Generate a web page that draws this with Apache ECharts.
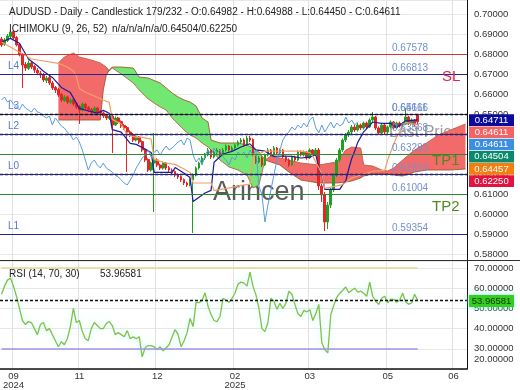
<!DOCTYPE html>
<html><head><meta charset="utf-8">
<script src="https://cdn.jsdelivr.net/npm/echarts@6/dist/echarts.min.js"></script>
<style>html,body{margin:0;padding:0;background:#fff}#c{width:520px;height:390px}</style>
</head><body><div id="c"></div>
<script>
// ---------- DATA ----------
// candles: [open, close, low, high]
const candles = [
[.6875,.6845,.6835,.6885],[.6848,.6870,.6840,.6880],[.6868,.6890,.6860,.6900],[.6888,.6910,.6880,.6920],[.6912,.6880,.6872,.6918],
[.6882,.6845,.6838,.6890],[.6848,.6795,.6788,.6852],[.6798,.6745,.6630,.6805],[.6748,.6730,.6715,.6760],[.6728,.6755,.6720,.6768],
[.6755,.6735,.6725,.6765],[.6738,.6720,.6705,.6745],[.6718,.6705,.6695,.6730],[.6702,.6695,.6680,.6715],[.6698,.6670,.6660,.6705],
[.6668,.6680,.6655,.6690],[.6682,.6655,.6645,.6690],[.6655,.6630,.6620,.6665],[.6632,.6620,.6605,.6640],[.6622,.6595,.6585,.6630],
[.6598,.6570,.6560,.6605],[.6568,.6585,.6560,.6595],[.6585,.6560,.6550,.6592],[.6558,.6570,.6548,.6580],[.6572,.6550,.6540,.6578],
[.6552,.6535,.6525,.6560],[.6538,.6520,.6450,.6545],[.6520,.6550,.6512,.6558],[.6548,.6530,.6520,.6555],[.6532,.6520,.6510,.6540],
[.6522,.6510,.6500,.6530],[.6508,.6530,.6500,.6538],[.6530,.6510,.6500,.6535],[.6512,.6505,.6495,.6520],[.6505,.6490,.6480,.6512],
[.6492,.6480,.6470,.6498],[.6478,.6490,.6470,.6498],[.6490,.6445,.6305,.6495],[.6445,.6480,.6440,.6488],[.6480,.6460,.6450,.6485],
[.6462,.6440,.6430,.6468],[.6442,.6430,.6420,.6450],[.6432,.6410,.6210,.6440],[.6410,.6395,.6385,.6418],[.6398,.6370,.6360,.6405],
[.6370,.6385,.6362,.6392],[.6385,.6360,.6350,.6390],[.6362,.6320,.6310,.6368],[.6322,.6270,.6260,.6328],[.6272,.6220,.6210,.6278],
[.6220,.6255,.6212,.6262],[.6255,.6270,.6010,.6405],[.6270,.6245,.6235,.6278],[.6245,.6230,.6220,.6252],[.6230,.6255,.6222,.6262],
[.6255,.6230,.6220,.6260],[.6232,.6220,.6210,.6240],[.6220,.6210,.6200,.6228],[.6212,.6195,.6185,.6218],[.6195,.6185,.6175,.6202],
[.6188,.6170,.6160,.6192],[.6172,.6155,.6145,.6178],[.6155,.6145,.6135,.6162],[.6145,.6170,.6138,.6178],[.6170,.6195,.5905,.6202],
[.6195,.6230,.6188,.6238],[.6230,.6255,.6222,.6262],[.6255,.6280,.6248,.6290],[.6280,.6295,.6270,.6305],[.6295,.6320,.6288,.6330],
[.6318,.6285,.6275,.6325],[.6285,.6310,.6278,.6318],[.6310,.6320,.6300,.6330],[.6320,.6295,.6288,.6325],[.6295,.6320,.6290,.6330],
[.6320,.6340,.6312,.6348],[.6340,.6320,.6312,.6345],[.6320,.6330,.6310,.6340],[.6330,.6345,.6322,.6352],[.6345,.6360,.6338,.6368],
[.6360,.6370,.6350,.6380],[.6370,.6345,.6335,.6378],[.6345,.6380,.6340,.6390],[.6380,.6370,.6360,.6392],[.6372,.6295,.6285,.6378],
[.6295,.6260,.6250,.6300],[.6260,.6280,.6252,.6290],[.6280,.6245,.6235,.6288],[.6245,.6295,.6240,.6302],[.6295,.6320,.6288,.6330],
[.6320,.6295,.6288,.6325],[.6295,.6330,.6290,.6340],[.6330,.6305,.6298,.6335],[.6305,.6320,.6298,.6328],[.6320,.6285,.6278,.6325],
[.6285,.6270,.6260,.6292],[.6270,.6245,.6235,.6278],[.6245,.6285,.6240,.6292],[.6285,.6270,.6262,.6292],[.6270,.6310,.6265,.6318],
[.6310,.6295,.6288,.6318],[.6295,.6310,.6288,.6318],[.6310,.6280,.6272,.6315],[.6280,.6320,.6275,.6328],[.6320,.6295,.6288,.6325],
[.6295,.6320,.6290,.6330],[.6320,.6140,.6120,.6330],[.6140,.6095,.6060,.6150],[.6095,.5960,.5915,.6110],[.5960,.6045,.5925,.6060],
[.6045,.6120,.6030,.6130],[.6120,.6195,.6110,.6205],[.6195,.6270,.6185,.6280],[.6270,.6320,.6260,.6330],[.6320,.6370,.6310,.6378],
[.6370,.6395,.6360,.6405],[.6395,.6410,.6385,.6420],[.6410,.6435,.6400,.6445],[.6435,.6420,.6410,.6445],[.6420,.6445,.6412,.6455],
[.6445,.6430,.6420,.6452],[.6430,.6455,.6422,.6462],[.6455,.6435,.6425,.6462],[.6435,.6470,.6430,.6478],[.6470,.6485,.6462,.6510],
[.6485,.6430,.6420,.6490],[.6430,.6405,.6395,.6438],[.6405,.6445,.6400,.6452],[.6445,.6410,.6400,.6450],[.6410,.6435,.6402,.6442],
[.6435,.6460,.6428,.6468],[.6460,.6430,.6422,.6465],[.6430,.6455,.6425,.6462],[.6455,.6440,.6432,.6462],[.6440,.6450,.6430,.6458],
[.6450,.6485,.6445,.6530],[.6485,.6455,.6445,.6492],[.6455,.6470,.6448,.6478],[.6470,.6445,.6438,.6475],[.6498,.6461,.6445,.6499]
];
// Tenkan (navy) as [barIndex, value]
const tenkan = [[0,.6860],[3,.6878],[6,.6854],[9,.6775],[12,.6741],[14,.6714],[17,.6683],[20,.6633],[23,.6607],[26,.6528],[29,.6515],[32,.6504],[34,.6518],[36,.6504],
[37,.6422],[40,.6409],[43,.6353],[45,.6348],[48,.6325],[50,.6308],[51,.6208],[57,.6208],[58,.6232],[61,.6204],[63,.6182],[64,.6062],[66,.6084],[68,.6105],[70,.6118],
[71,.6259],[74,.6300],[77,.6313],[80,.6335],[83,.6351],[85,.6321],[88,.6314],[91,.6288],[94,.6290],[97,.6288],[100,.6280],[103,.6284],[105,.6298],[106,.6225],[107,.6195],
[108,.6123],[113,.6123],[114,.6147],[115,.6165],[116,.6225],[117,.6278],[118,.6315],[119,.6358],[121,.6411],[124,.6460],[127,.6453],[130,.6453],[132,.6432],[135,.6466],[139,.6471]];
// Kijun (orange) as [barIndex, value]
const kijun = [[0,.6860],[10,.6775],[19,.6753],[22,.6735],[24,.6715],[25,.6689],[26,.6628],[28,.6609],[31,.6590],[34,.6570],[36,.6558],[37,.6473],[40,.6450],[42,.6395],
[45,.6384],[47,.6383],[50,.6374],[51,.6273],[55,.6254],[58,.6248],[61,.6225],[63,.6208],[64,.6155],[70,.6155],[71,.6118],[75,.6127],[80,.6143],[83,.6149],[84,.6290],
[88,.6314],[100,.6314],[103,.6307],[104,.6288],[106,.6230],[107,.6200],[108,.6128],[114,.6147],[117,.6180],[124,.6213],[128,.6218],[129,.6270],[130,.6310],[131,.6348],
[132,.6385],[133,.6410],[135,.6458],[139,.6446]];
// Chikou span shift (bars)
const CHIKOU_SHIFT = 20;
// Cloud (senkou spans) vertices
const cloudIdx = [19,21,24,26,30,33,34,35,36,37,40,44,46,49,53,55,57,59,61,63,65,67,69,70,73,76,79,82,84,86,88,90,93,96,100,106,112,115,117,120,121,124,127,129,131,134,138,142,146,150,155];
const senkouA  = [.6755,.6785,.6805,.6785,.6770,.6755,.6745,.6735,.6715,.6730,.6700,.6655,.6620,.6575,.6535,.6520,.6480,.6450,.6420,.6395,.6380,.6355,.6335,.6320,.6270,.6235,.6220,.6195,.6130,.6145,.6270,.6290,.6280,.6270,.6255,.6245,.6260,.6320,.6335,.6330,.6245,.6240,.6220,.6215,.6230,.6270,.6320,.6355,.6395,.6420,.6450];
const senkouB  = [.6470,.6470,.6470,.6470,.6470,.6470,.6620,.6695,.6720,.6735,.6735,.6730,.6685,.6680,.6655,.6630,.6605,.6585,.6570,.6560,.6540,.6480,.6460,.6370,.6355,.6355,.6355,.6345,.6330,.6310,.6270,.6260,.6245,.6210,.6170,.6155,.6155,.6160,.6165,.6180,.6190,.6200,.6200,.6200,.6195,.6190,.6210,.6220,.6220,.6220,.6225];
// RSI(14)
const rsi = [57,61,64,65,61,56,50,44,42,43.5,43,40,37,42,43,39,40,37,34,31,33.5,32,35,41,50,43,44,38.5,35,34,
40,43,41.5,40,40,42.5,43.5,41.5,37,38,37,36,39,35,36,35,36,26,30.6,31.6,31.6,31,29.6,31,29,30.5,32,36,39.5,37,
31,34,38,45,41,53,52.8,54,57.7,51,47,44,43.5,46,55,54,53,55,57.5,62,63,62.5,61,68,61,56.7,50,40,38.5,43,
55,53.5,49.5,52.5,50,52.5,58.5,57,52,47.5,46,49,48.3,49.3,44,47.5,52,33,29.5,28,47,51.5,55.5,57.5,59,60.6,57.7,59,60,58,
58.5,57.5,56,63,56,53.5,52,55,56,52.8,54.5,54.5,53,54,57.5,53.3,52,52.8,57,53.97];
const rsiLast = 53.96581;
const rsiLevels = [70, 30];
// Horizontal price levels
const levels     = [0.67578, 0.66813, 0.65166, 0.64611, 0.64457, 0.63568, 0.63283, 0.62250, 0.61913, 0.61004, 0.59354];
const levelKind  = ['stop','pivot','pivot','dash','dash','pivot','target','dash','pivot','target','pivot'];
const levelText  = ['0.67578','0.66813','0.65166','0.64611','','0.63568','0.63283','','0.61913','0.61004','0.59354'];
const levelName  = ['','L4','L3','','','L2','','','L0','','L1'];
// Right-side value tags
const tagTexts = ['0.64711','0.64611','0.64611','0.64504','0.64457','0.62250'];
// X axis ticks
const FUTURE = 16;
const xTickIdx  = [4, 26, 52, 78, 103, 129, 151];
const xTickText = ['09\n2024','11','12','02\n2025','03','05','06'];

// ---------- BUILD ----------
const FONT = "'Liberation Sans', Arial, sans-serif";
const N = candles.length;
const categories = [];
for (let i = 0; i < N + FUTURE; i++) categories.push(String(i));
const isTick = (i) => xTickIdx.indexOf(i) >= 0;
const chikou = candles.slice(CHIKOU_SHIFT).map(c => c[1]);

const cloudBase = [], cloudRed = [], cloudGreen = [], lineA = [], lineB = [];
cloudIdx.forEach((x, k) => {
  const a = senkouA[k], b = senkouB[k];
  cloudBase.push([x, Math.min(a, b)]);
  cloudRed.push([x, a > b ? a - b : 0]);
  cloudGreen.push([x, b > a ? b - a : 0]);
  lineA.push([x, a]); lineB.push([x, b]);
});

const kindStyle = {
  stop:   {color:'#d83232', width:1.2, type:'solid'},
  pivot:  {color:'#25258f', width:1.2, type:'solid'},
  dash:   {color:'#111111', width:1.3, type:[3,2]},
  target: {color:'#2f8a2f', width:1.2, type:'solid'}
};
const priceMarks = [];
levels.forEach((v, k) => {
  priceMarks.push({
    yAxis: v,
    lineStyle: Object.assign({}, kindStyle[levelKind[k]]),
    label: {show: !!levelText[k], formatter: levelText[k] || ' ', position:'insideStartTop',
            distance:[392, 1], color:'#7390d0', fontSize:10, fontFamily:FONT}
  });
  if (levelName[k]) priceMarks.push({
    yAxis: v, lineStyle:{color:'rgba(0,0,0,0)', width:1},
    label: {show:true, formatter: levelName[k], position:'insideStartTop', distance:[8, 3],
            color:'#5878cc', fontSize:10, fontFamily:FONT, opacity:1}
  });
});

const tagColors = ['#0a0a9c','#f26464','#3d8de0','#0b8a6b','#f47d10','#e3123f'];
function txt(x, y, text, size, color, extra) {
  return Object.assign({type:'text', x:x, y:y, z:100, silent:true,
    style:{text:text, fill:color, fontSize:size, fontFamily:FONT,
           align:'left', verticalAlign:'middle', textAlign:'left', textVerticalAlign:'middle'}}, extra || {});
}
const graphics = [
  {type:'line', z:50, silent:true, shape:{x1:0, y1:260.5, x2:520, y2:260.5}, style:{stroke:'#333', lineWidth:1}},
  txt(213, 193, 'Arincen', 27, '#5a5a5a', {z:1}),
  txt(389, 133, 'Last Price', 16, '#9c9c9c', {z:1}),
  txt(442, 77, 'SL', 15, '#e0204a'),
  txt(432, 161, 'TP1', 15, '#4e8a1e'),
  txt(432, 207, 'TP2', 15, '#4e8a1e'),
  txt(9, 12, 'AUDUSD - Daily - Candlestick', 10, '#222'),
  txt(146, 12, '179/232 - O:0.64982 - H:0.64988 - L:0.64450 - C:0.64611', 10, '#222'),
  txt(9, 29, 'ICHIMOKU (9, 26, 52)', 10, '#222'),
  txt(112, 29, 'n/a/n/a/n/a/0.64504/0.62250', 10, '#222'),
  txt(9, 274, 'RSI (14, 70, 30)', 10, '#222'),
  txt(100, 274, '53.96581', 10, '#222')
];
tagTexts.forEach((t, k) => {
  const y = 114.3 + k * 12.2;
  graphics.push({type:'rect', z:90, silent:true, shape:{x:469, y:y, width:45, height:11.6}, style:{fill:tagColors[k]}});
  graphics.push({type:'text', z:91, silent:true, x:491.5, y:y + 5.9,
    style:{text:t, fill:'#fff', fontSize:9.5, fontFamily:FONT, align:'center', verticalAlign:'middle', textAlign:'center', textVerticalAlign:'middle'}});
});
graphics.push({type:'rect', z:90, silent:true, shape:{x:469, y:295, width:45, height:12},
  style:{fill:'#34cf1e', shadowColor:'rgba(90,255,230,0.7)', shadowBlur:6}});
graphics.push({type:'text', z:91, silent:true, x:491.5, y:301,
  style:{text:'53.96581', fill:'#113300', fontSize:9.5, fontFamily:FONT, align:'center', verticalAlign:'middle', textAlign:'center', textVerticalAlign:'middle'}});

const lineCommon = {type:'line', symbol:'none', silent:true, animation:false, xAxisIndex:0, yAxisIndex:0};

const option = {
  animation: false,
  backgroundColor: '#fff',
  textStyle: {fontFamily: FONT},
  grid: [
    {left:0, right:53, top:0, height:260, outerBoundsMode:'none'},
    {left:0, right:53, top:261, height:108, outerBoundsMode:'none'}
  ],
  xAxis: [
    {type:'category', gridIndex:0, data:categories, boundaryGap:true,
     axisLine:{show:false}, axisTick:{show:false}, axisLabel:{show:false},
     splitLine:{show:true, interval:isTick, lineStyle:{color:'#e2e2e2', width:1}}},
    {type:'category', gridIndex:1, data:categories, boundaryGap:true,
     axisLine:{show:true, lineStyle:{color:'#111', width:1.5}}, axisTick:{show:false},
     axisLabel:{interval:isTick, formatter:(v, i) => xTickText[xTickIdx.indexOf(i)] || '',
                fontSize:9.5, color:'#333', lineHeight:9, margin:3, fontFamily:FONT},
     splitLine:{show:true, interval:isTick, lineStyle:{color:'#e2e2e2', width:1}}}
  ],
  yAxis: [
    {type:'value', gridIndex:0, position:'right', min:0.577, max:0.707, splitNumber:13, scale:true,
     axisLine:{show:true, lineStyle:{color:'#111'}}, axisTick:{show:false},
     axisLabel:{formatter:v => v.toFixed(5), fontSize:9.5, color:'#333', margin:7, showMinLabel:false, showMaxLabel:false, fontFamily:FONT},
     splitLine:{show:true, lineStyle:{color:'#e8e8e8'}}},
    {type:'value', gridIndex:1, position:'right', min:20, max:73.45, interval:10,
     axisLine:{show:true, lineStyle:{color:'#111'}}, axisTick:{show:false},
     axisLabel:{formatter:v => (Math.abs(v - 20) < 1e-6 ? '{lo|20.00000}' : v.toFixed(5)),
                rich:{lo:{padding:[0,0,20,0], fontSize:9.5, color:'#333', fontFamily:FONT}},
                fontSize:9.5, color:'#333', margin:7, showMaxLabel:false, fontFamily:FONT},
     splitLine:{show:true, lineStyle:{color:'#e8e8e8'}}}
  ],
  graphic: graphics,
  series: [
    Object.assign({}, lineCommon, {name:'cloudBase', data:cloudBase, stack:'cloud', lineStyle:{opacity:0, width:0}, z:1}),
    Object.assign({}, lineCommon, {name:'cloudRed', data:cloudRed, stack:'cloud', lineStyle:{opacity:0, width:0},
      areaStyle:{color:'#f36a6a', opacity:1}, z:1}),
    Object.assign({}, lineCommon, {name:'cloudGreen', data:cloudGreen, stack:'cloud', lineStyle:{opacity:0, width:0},
      areaStyle:{color:'#72e872', opacity:1}, z:1}),
    Object.assign({}, lineCommon, {name:'senkouA', data:lineA, lineStyle:{color:'#b8623e', width:0.9}, z:1}),
    Object.assign({}, lineCommon, {name:'senkouB', data:lineB, lineStyle:{color:'#a0582c', width:0.9}, z:1}),
    {type:'candlestick', name:'AUDUSD', xAxisIndex:0, yAxisIndex:0, data:candles, barWidth:2.2, silent:true, z:3,
     itemStyle:{color:'#22a022', color0:'#e02626', borderColor:'#22a022', borderColor0:'#e02626', borderWidth:1},
     markLine:{symbol:['none','none'], silent:true, animation:false, data:priceMarks}},
    Object.assign({}, lineCommon, {name:'tenkan', data:tenkan, lineStyle:{color:'#1c1ca0', width:1.2}, z:4}),
    Object.assign({}, lineCommon, {name:'kijun', data:kijun, lineStyle:{color:'#f2a068', width:1.2}, z:4}),
    Object.assign({}, lineCommon, {name:'chikou', data:chikou, lineStyle:{color:'#5a9de0', width:1}, z:4}),
    {type:'line', name:'RSI', xAxisIndex:1, yAxisIndex:1, data:rsi, symbol:'none', silent:true, z:4,
     lineStyle:{color:'#86bf48', width:1.3, shadowColor:'rgba(120,255,240,0.55)', shadowBlur:6},
     markLine:{symbol:['none','none'], silent:true, animation:false, label:{show:false},
       data:[
         [{coord:[0, rsiLevels[0]], lineStyle:{color:'#e3da8f', width:1.5, type:'solid'}}, {coord:[N - 1, rsiLevels[0]]}],
         [{coord:[0, rsiLevels[1]], lineStyle:{color:'#9f93e6', width:1.5, type:'solid'}}, {coord:[N - 1, rsiLevels[1]]}],
         {yAxis: rsiLast, lineStyle:{color:'#111', type:[3,2], width:1.3}}
       ]}}
  ]
};
const chart = echarts.init(document.getElementById('c'));
chart.setOption(option);
</script>
</body></html>
